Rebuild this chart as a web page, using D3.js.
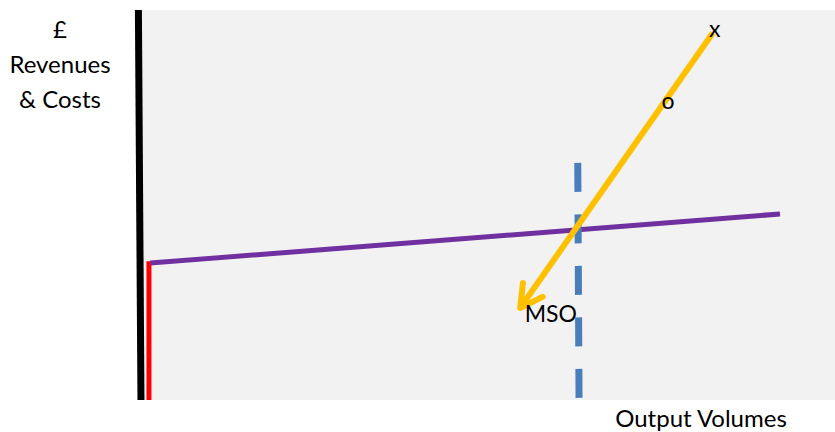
<!DOCTYPE html>
<html><head><meta charset="utf-8">
<script src="https://cdn.jsdelivr.net/npm/d3@7"></script>
<style>body{margin:0;background:#fff}svg{display:block}text{font-family:Lato,"Open Sans",sans-serif;fill:#000}</style>
</head><body><svg id="c" width="835" height="432"></svg>
<script>
// Schematic values (unitless 0-100 domain)
const yAxisLine = [[-0.25, 100], [0.15, 0]];
const redLine = [[1.4, 35.6], [1.4, 0]];
const purpleLine = [[1.6, 35.1], [100, 47.7]];
const dashedLine = [[68.4, 60.8], [68.6, 0]];
const orangeArrow = [[89.5, 94.1], [59.4, 23.6]];
const yTitleLines = ["£", "Revenues", "& Costs"];
const xTitle = "Output Volumes";
const pointLabels = [
  {text: "x", x: 89.8, y: 93.0},
  {text: "o", x: 82.5, y: 74.5},
  {text: "MSO", x: 64.2, y: 20.0}
];

const W = 835, H = 432;
const svg = d3.select("#c");
const x = d3.scaleLinear().domain([0, 100]).range([140, 780]);
const y = d3.scaleLinear().domain([0, 100]).range([400, 10]);
const line = d3.line().x(d => x(d[0])).y(d => y(d[1]));

// plot background
svg.append("rect").attr("x", x(0)).attr("y", y(100)).attr("width", W - x(0)).attr("height", y(0) - y(100)).attr("fill", "#f2f2f2");

svg.append("path").attr("d", line(yAxisLine)).attr("stroke", "#000").attr("stroke-width", 7).attr("fill", "none");
svg.append("path").attr("d", line(redLine)).attr("stroke", "#ff0000").attr("stroke-width", 5).attr("fill", "none");
svg.append("path").attr("d", line(purpleLine)).attr("stroke", "#7030a0").attr("stroke-width", 5).attr("fill", "none");
svg.append("path").attr("d", line(dashedLine)).attr("stroke", "#4a7ebb").attr("stroke-width", 7)
  .attr("stroke-dasharray", "29 22.5").attr("fill", "none");

// orange arrow
svg.append("path").attr("d", line(orangeArrow)).attr("stroke", "#ffc000").attr("stroke-width", 6).attr("fill", "none");
{
  const p0 = [x(orangeArrow[0][0]), y(orangeArrow[0][1])];
  const p1 = [x(orangeArrow[1][0]), y(orangeArrow[1][1])];
  const ang = Math.atan2(p0[1] - p1[1], p0[0] - p1[0]);
  const L = 25, a = Math.PI / 6.3;
  const h1 = [p1[0] + L * Math.cos(ang - a), p1[1] + L * Math.sin(ang - a)];
  const h2 = [p1[0] + L * Math.cos(ang + a), p1[1] + L * Math.sin(ang + a)];
  svg.append("path").attr("d", `M${h1}L${p1}L${h2}`).attr("stroke", "#ffc000").attr("stroke-width", 6)
    .attr("fill", "none").attr("stroke-linejoin", "round").attr("stroke-linecap", "round");
}

// labels
svg.selectAll("text.pl").data(pointLabels).join("text").attr("class", "pl")
  .attr("x", d => x(d.x)).attr("y", d => y(d.y)).attr("text-anchor", "middle")
  .attr("font-size", 23).text(d => d.text);

svg.selectAll("text.yt").data(yTitleLines).join("text").attr("class", "yt")
  .attr("x", 60).attr("y", (d, i) => 38 + i * 35).attr("text-anchor", "middle")
  .attr("font-size", 24).text(d => d);

svg.append("text").attr("x", 701).attr("y", 427).attr("text-anchor", "middle").attr("font-size", 24).text(xTitle);
</script></body></html>
